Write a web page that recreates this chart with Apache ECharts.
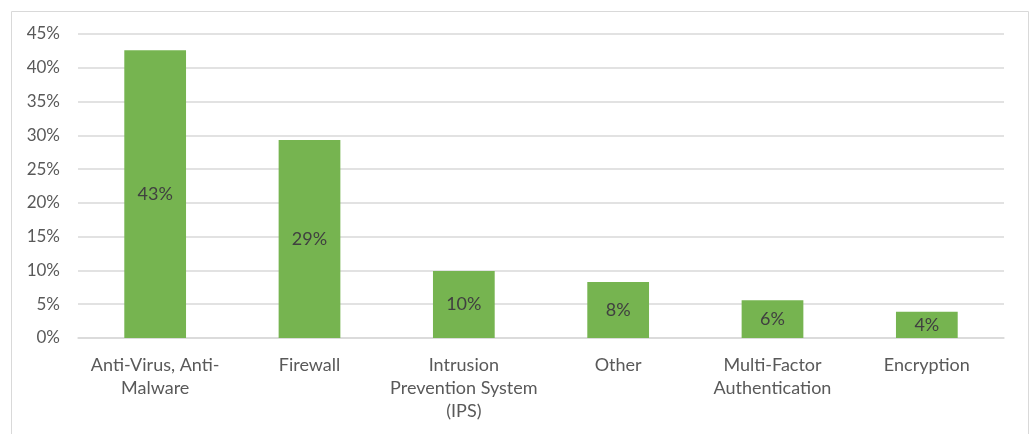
<!DOCTYPE html>
<html>
<head>
<meta charset="utf-8">
<style>
html, body { margin:0; padding:0; background:#fff; }
#chart { width:1034px; height:434px; }
</style>
</head>
<body>
<div id="chart"></div>
<script src="https://cdn.jsdelivr.net/npm/echarts@6/dist/echarts.min.js"></script>
<script>
var categories = ['Anti-Virus, Anti-\nMalware', 'Firewall', 'Intrusion\nPrevention System\n(IPS)', 'Other', 'Multi-Factor\nAuthentication', 'Encryption'];
var shares = [0.426, 0.293, 0.099, 0.083, 0.056, 0.039];
var yTicks = { min: 0, max: 0.45, step: 0.05 };

function pct(v){ return Math.round(v * 100) + '%'; }

var chart = echarts.init(document.getElementById('chart'));
chart.setOption({
	animation: false,
	textStyle: { fontFamily: 'Lato' },
	graphic: [{
		type: 'rect', silent: true,
		shape: { x: 11.5, y: 11.5, width: 1017, height: 440 },
		style: { fill: 'none', stroke: '#d9d9d9', lineWidth: 1 }
	}],
	grid: { left: 78, right: 30, top: 34, bottom: 96 },
	xAxis: {
		type: 'category', data: categories,
		axisLine: { lineStyle: { color: '#d9d9d9', width: 1.5 } },
		axisTick: { show: false },
		axisLabel: { color: '#595959', fontSize: 18, lineHeight: 23, margin: 16, interval: 0 }
	},
	yAxis: {
		type: 'value', min: yTicks.min, max: yTicks.max, interval: yTicks.step,
		axisLine: { show: false }, axisTick: { show: false },
		splitLine: { lineStyle: { color: '#d9d9d9', width: 1.5 } },
		axisLabel: { color: '#595959', fontSize: 17, margin: 18, formatter: pct }
	},
	series: [{
		type: 'bar', data: shares, barWidth: '40%',
		itemStyle: { color: '#76b450' },
		label: {
			show: true, position: 'inside', color: '#404040', fontSize: 18,
			formatter: function(p){ return pct(p.value); }
		}
	}]
});
</script>
</body>
</html>
